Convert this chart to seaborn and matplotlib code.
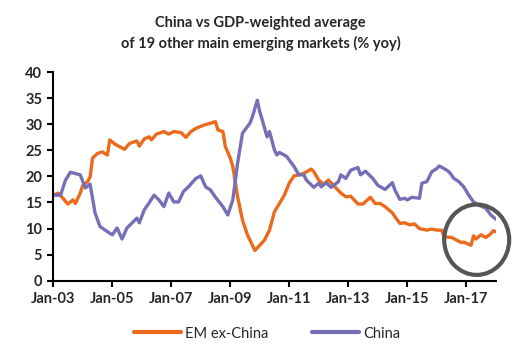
import pandas as pd
import seaborn as sns
import matplotlib.pyplot as plt
import matplotlib.dates as mdates
from matplotlib.patches import Ellipse

# China, % yoy
china_dates = [
    "2003-01", "2003-04", "2003-06", "2003-08", "2003-12", "2004-02", "2004-04", "2004-06",
    "2004-08", "2004-11", "2005-01", "2005-03", "2005-05", "2005-07", "2005-11", "2005-12",
    "2006-02", "2006-04", "2006-06", "2006-08", "2006-10", "2006-12", "2007-02", "2007-04",
    "2007-06", "2007-08", "2007-11", "2008-01", "2008-03", "2008-05", "2008-07", "2008-09",
    "2008-10", "2008-12", "2009-02", "2009-04", "2009-06", "2009-09", "2009-10", "2009-12",
    "2010-01", "2010-02", "2010-04", "2010-05", "2010-07", "2010-08", "2010-09", "2010-12",
    "2011-03", "2011-05", "2011-07", "2011-08", "2011-11", "2012-01", "2012-02", "2012-04",
    "2012-06", "2012-09", "2012-10", "2012-12", "2013-02", "2013-05", "2013-06", "2013-08",
    "2013-11", "2014-01", "2014-04", "2014-07", "2014-08", "2014-10", "2014-12", "2015-01",
    "2015-03", "2015-06", "2015-07", "2015-09", "2015-11", "2016-01", "2016-02", "2016-04",
    "2016-06", "2016-08", "2016-10", "2016-12", "2017-02", "2017-04", "2017-06", "2017-09",
    "2017-11", "2018-01",
]
china_values = [
    16.4, 16.4, 19.3, 20.8, 20.3, 17.8, 18.5, 13.0,
    10.4, 9.4, 8.8, 10.1, 8.0, 10.1, 12.0, 11.1,
    13.6, 14.9, 16.4, 15.5, 14.2, 16.8, 15.1, 15.1,
    17.1, 18.0, 19.6, 20.1, 18.0, 17.4, 16.0, 14.8,
    14.2, 12.6, 15.5, 22.5, 28.3, 30.2, 31.4, 34.6,
    32.4, 30.8, 27.6, 28.6, 25.1, 24.1, 24.6, 23.8,
    21.9, 20.3, 20.3, 19.3, 17.9, 18.7, 18.0, 18.8,
    17.9, 19.0, 20.3, 19.6, 21.2, 21.7, 20.3, 21.0,
    19.6, 18.3, 17.5, 18.8, 17.4, 15.6, 15.8, 15.5,
    16.0, 15.8, 18.7, 19.0, 20.9, 21.5, 22.0, 21.5,
    20.9, 19.6, 19.0, 18.0, 16.4, 15.1, 14.5, 13.9,
    12.6, 11.8,
]

# GDP-weighted average of 19 other EMs, % yoy
em_dates = [
    "2003-01", "2003-03", "2003-05", "2003-07", "2003-09", "2003-10", "2003-12", "2004-01",
    "2004-03", "2004-04", "2004-05", "2004-07", "2004-09", "2004-11", "2004-12", "2005-02",
    "2005-04", "2005-06", "2005-08", "2005-11", "2005-12", "2006-02", "2006-04", "2006-05",
    "2006-07", "2006-10", "2006-12", "2007-02", "2007-05", "2007-07", "2007-09", "2007-11",
    "2008-02", "2008-05", "2008-07", "2008-08", "2008-10", "2008-11", "2009-01", "2009-02",
    "2009-04", "2009-06", "2009-08", "2009-11", "2010-01", "2010-03", "2010-05", "2010-07",
    "2010-09", "2010-11", "2011-01", "2011-03", "2011-05", "2011-07", "2011-10", "2011-11",
    "2012-01", "2012-03", "2012-05", "2012-07", "2012-10", "2012-12", "2013-02", "2013-05",
    "2013-07", "2013-10", "2013-12", "2014-02", "2014-04", "2014-07", "2014-08", "2014-10",
    "2014-12", "2015-02", "2015-04", "2015-06", "2015-09", "2015-11", "2016-01", "2016-03",
    "2016-04", "2016-07", "2016-09", "2016-11", "2016-12", "2017-03", "2017-04", "2017-05",
    "2017-07", "2017-09", "2017-11", "2017-12", "2018-01",
]
em_values = [
    16.4, 16.8, 15.8, 14.7, 15.5, 14.8, 16.8, 18.3,
    19.0, 19.9, 23.5, 24.4, 24.7, 24.1, 27.0, 26.2,
    25.7, 25.2, 26.3, 26.8, 25.8, 27.2, 27.6, 27.0,
    28.1, 28.6, 28.1, 28.6, 28.4, 27.5, 28.6, 29.2,
    29.8, 30.2, 30.5, 28.9, 28.6, 25.7, 23.5, 21.9,
    16.1, 11.6, 8.8, 5.8, 6.8, 7.8, 9.7, 13.2,
    14.8, 16.4, 18.7, 20.1, 20.3, 20.6, 21.4, 20.9,
    19.3, 18.5, 19.3, 18.3, 16.8, 16.1, 16.2, 14.7,
    14.7, 16.0, 14.8, 14.8, 14.2, 13.0, 12.3, 11.0,
    11.1, 10.7, 10.9, 10.0, 9.7, 9.9, 9.7, 9.7,
    8.4, 8.3, 7.8, 7.3, 7.4, 6.8, 8.6, 8.0,
    8.8, 8.3, 9.0, 9.6, 9.4,
]

series_names = ["EM ex-China", "China"]
colors = {"EM ex-China": "#EC6A1C", "China": "#7570B6"}
tick_dates = ["2003-01-01", "2005-01-01", "2007-01-01", "2009-01-01",
              "2011-01-01", "2013-01-01", "2015-01-01", "2017-01-01"]

df = pd.concat([
    pd.DataFrame({"date": pd.to_datetime(em_dates), "value": em_values, "series": series_names[0]}),
    pd.DataFrame({"date": pd.to_datetime(china_dates), "value": china_values, "series": series_names[1]}),
])

sns.set_style("white")
plt.rcParams['font.family'] = ['Lato', 'DejaVu Sans']

fig = plt.figure(figsize=(5.24, 3.5), dpi=100)
ax = fig.add_axes([0.1017, 0.198, 0.845, 0.596])

sns.lineplot(data=df, x="date", y="value", hue="series", hue_order=series_names,
             palette=colors, linewidth=2.4, ax=ax)

# highlight circle around the latest readings
ax.add_patch(Ellipse((mdates.date2num(pd.Timestamp("2017-05-10")), 7.86), width=805,
                     height=13.5, fill=False, edgecolor="#555555", linewidth=3, zorder=5,
                     clip_on=False))

ax.set_ylim(0, 40)
ax.set_yticks(range(0, 41, 5))
ax.set_xlim(pd.Timestamp("2003-01-01"), pd.Timestamp("2018-01-05"))
ax.set_xticks(pd.to_datetime(tick_dates))
ax.xaxis.set_major_formatter(mdates.DateFormatter("%b-%y"))
ax.set_xlabel("")
ax.set_ylabel("")

for side in ["top", "right"]:
    ax.spines[side].set_visible(False)
for side in ["left", "bottom"]:
    ax.spines[side].set_color("black")
    ax.spines[side].set_linewidth(1.5)
ax.tick_params(axis="both", direction="out", length=4, width=1.5, color="black",
               labelsize=10.5, pad=4, left=True, bottom=True)
for lbl in ax.get_xticklabels() + ax.get_yticklabels():
    lbl.set_fontweight("bold")

fig.text(0.497, 0.905, "China vs GDP-weighted average\nof 19 other main emerging markets (% yoy)",
         ha="center", va="center", fontsize=10.5, fontweight="bold", linespacing=1.5)

ax.legend(loc="center", bbox_to_anchor=(0.51, 0.047), bbox_transform=fig.transFigure,
          ncol=2, frameon=False, fontsize=10.5, handlelength=3.2, columnspacing=3.0,
          handletextpad=0.3)
for line in ax.get_legend().get_lines():
    line.set_linewidth(3)

fig.savefig("out.png", dpi=100)
